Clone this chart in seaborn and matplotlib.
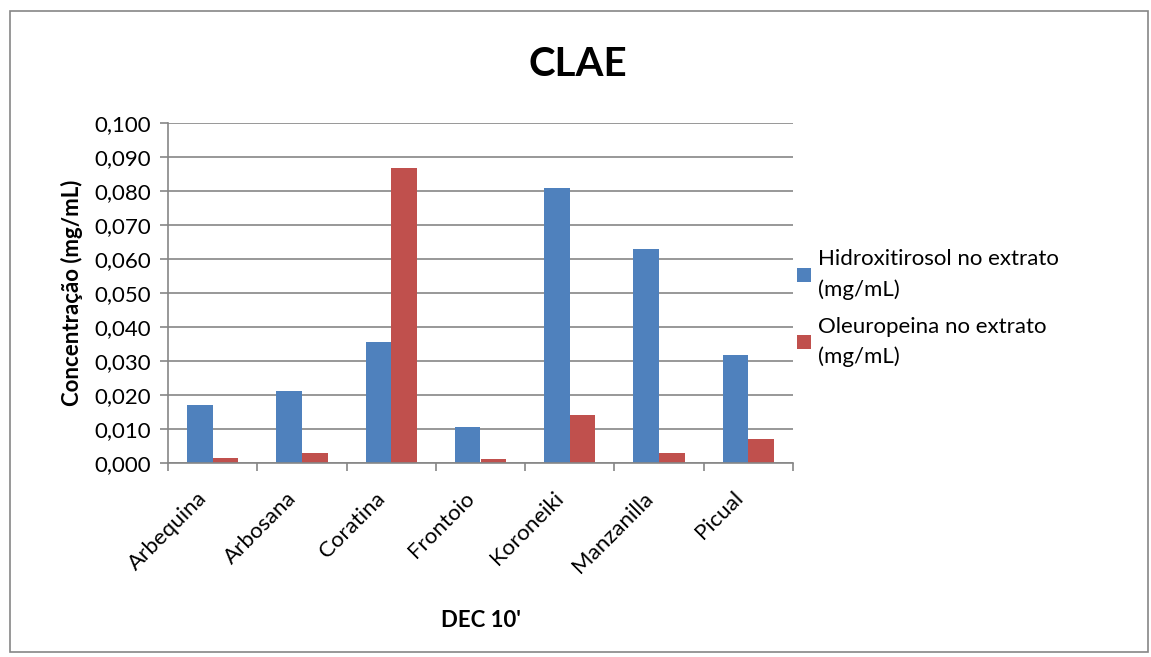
import pandas as pd
import matplotlib.pyplot as plt
import seaborn as sns
from matplotlib.patches import Rectangle
from matplotlib.ticker import FuncFormatter
from matplotlib.transforms import ScaledTranslation

# -- Data --
cultivars = ["Arbequina", "Arbosana", "Coratina", "Frontoio",
             "Koroneiki", "Manzanilla", "Picual"]
hidroxitirosol = [0.0171, 0.0212, 0.0355, 0.0107, 0.0808, 0.0630, 0.0318]
oleuropeina = [0.0015, 0.0030, 0.0867, 0.0013, 0.0140, 0.0029, 0.0072]
series_names = ["Hidroxitirosol no extrato\n(mg/mL)",
                "Oleuropeina no extrato\n(mg/mL)"]
colors = ["#4F81BD", "#C0504D"]

df = pd.DataFrame({
    "cultivar": cultivars * 2,
    "valor": hidroxitirosol + oleuropeina,
    "serie": [series_names[0]] * len(cultivars) + [series_names[1]] * len(cultivars),
})

sns.set_style("white")
plt.rcParams["font.family"] = ["Lato", "DejaVu Sans"]
plt.rcParams["text.color"] = "black"
plt.rcParams["axes.labelcolor"] = "black"
plt.rcParams["xtick.color"] = "black"
plt.rcParams["ytick.color"] = "black"

fig = plt.figure(figsize=(11.51, 6.57), dpi=100)
ax = fig.add_axes([168 / 1151, 1 - 463 / 657, 625 / 1151, 340 / 657])

sns.barplot(data=df, x="cultivar", y="valor", hue="serie",
            palette=colors, width=0.575, gap=0, ax=ax, saturation=1,
            edgecolor="none", legend=True)

ax.set_ylim(0, 0.100)
ax.set_xlim(-0.5, len(cultivars) - 0.5)
ax.set_yticks([i / 100 for i in range(11)])
ax.yaxis.set_major_formatter(FuncFormatter(lambda v, _: f"{v:.3f}".replace(".", ",")))
ax.grid(True, axis="y", color="#868686", linewidth=1.2)
ax.set_axisbelow(True)

# category labels at centres, tick marks at category boundaries (Excel style)
ax.set_xticks(range(len(cultivars)))
ax.set_xticklabels(cultivars, rotation=45, ha="right", rotation_mode="anchor", fontsize=16)
ax.tick_params(axis="x", length=0, pad=18)
shift = ScaledTranslation(-0.16, 0, fig.dpi_scale_trans)
for lbl in ax.get_xticklabels():
    lbl.set_transform(lbl.get_transform() + shift)
ax.set_xticks([i - 0.5 for i in range(len(cultivars) + 1)], minor=True)
ax.tick_params(axis="x", which="minor", length=6, color="#868686", width=1.2,
               direction="out", bottom=True)
ax.tick_params(axis="y", length=6, color="#868686", labelcolor="black", width=1.2,
               direction="out", left=True, labelsize=16, pad=6)

for side in ["top", "right"]:
    ax.spines[side].set_visible(False)
for side in ["left", "bottom"]:
    ax.spines[side].set_color("#868686")
    ax.spines[side].set_linewidth(1.2)

ax.set_xlabel("DEC 10'", fontsize=16, fontweight="bold", labelpad=24)
ax.set_ylabel("Concentração (mg/mL)", fontsize=16, fontweight="bold", labelpad=8)

fig.text(0.502, 0.902, "CLAE", ha="center", va="center",
         fontsize=29, fontweight="bold")

leg = ax.legend(loc="center left", bbox_to_anchor=(0.975, 0.455), frameon=False,
                fontsize=16, handlelength=0.6, handleheight=0.6,
                handletextpad=0.35, labelspacing=0.75)
for t in leg.get_texts():
    t.set_linespacing(1.6)

# chart border
fig.patches.append(Rectangle((10 / 1151, 5 / 657), 1138 / 1151, 641 / 657,
                             transform=fig.transFigure, fill=False,
                             edgecolor="#868686", linewidth=1.2))

fig.savefig("out.png", dpi=100)
